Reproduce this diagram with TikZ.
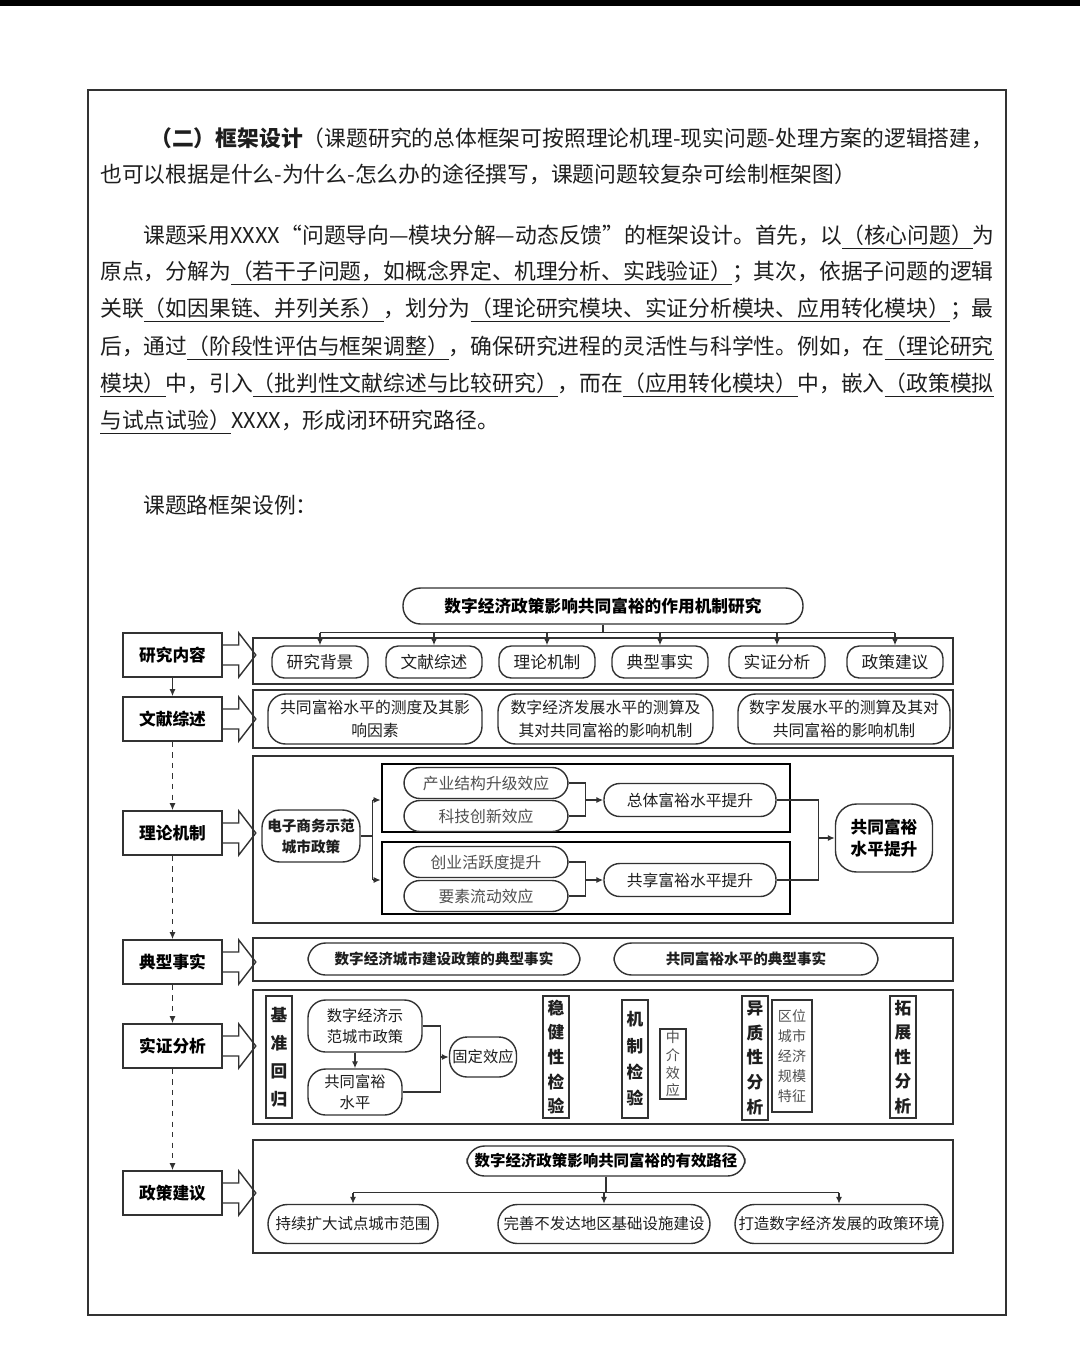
\documentclass[tikz,border=0pt]{standalone}
\usepackage{fontspec}
\setmainfont{Noto Sans CJK SC}
\usetikzlibrary{arrows.meta}
\definecolor{frm-line}{RGB}{50,50,50}
\definecolor{frm-text}{RGB}{30,30,30}
\definecolor{frm-grey}{RGB}{80,80,80}
\newcommand\fs[2]{\fontsize{#1}{#2}\selectfont}

\tikzset{
    wh/.style 2 args={minimum width=#1*0.02cm, minimum height=#2*0.02cm},
    pline/.style={anchor=west, inner sep=0pt, text=frm-text, font=\fs{12.4}{14}},
    lbl/.style={draw=frm-line, line width=0.9pt, fill=white, wh={99}{44}, font=\bfseries\fs{9.5}{11}},
    panel/.style={draw=frm-line, line width=1.1pt},
    inpanel/.style={draw=black, line width=1.5pt},
    rbox/.style={draw=frm-line, line width=0.8pt, rounded corners=7pt, align=center, inner sep=1pt, text=frm-text, font=\fs{9}{13}},
    vbox/.style={draw=frm-line, line width=0.8pt, align=center, inner sep=1pt, text=frm-text, font=\bfseries\fs{9.5}{14}},
    con/.style={draw=frm-line, line width=0.8pt}
}

\begin{document}
\begin{tikzpicture}[x=0.02cm, y=-0.02cm, >={Latex[length=4pt,width=3.5pt]}]

    % page
    \fill[white] (0,0) rectangle (1080,1357);
    \fill[black] (0,0) rectangle (1080,6);
    \draw[frm-line, line width=1.2pt] (88,90) rectangle (1006,1315);

    % heading and paragraph
    \node[pline] (h1) at (150,138) {{\bfseries （二）框架设计}（课题研究的总体框架可按照理论机理-现实问题-处理方案的逻辑搭建，};
    \node[pline] (h2) at (100,174) {也可以根据是什么-为什么-怎么办的途径撰写，课题问题较复杂可绘制框架图）};

    \node[pline] (p1) at (143,237) {课题采用XXXX“问题导向—模块分解—动态反馈”的框架设计。首先，以\underline{（核心问题）}为};
    \node[pline] (p2) at (100,273) {原点，分解为\underline{（若干子问题，如概念界定、机理分析、实践验证）}；其次，依据子问题的逻辑};
    \node[pline] (p3) at (100,310) {关联\underline{（如因果链、并列关系）}，划分为\underline{（理论研究模块、实证分析模块、应用转化模块）}；最};
    \node[pline] (p4) at (100,348) {后，通过\underline{（阶段性评估与框架调整）}，确保研究进程的灵活性与科学性。例如，在\underline{（理论研究}};
    \node[pline] (p5) at (100,385) {\underline{模块）}中，引入\underline{（批判性文献综述与比较研究）}，而在\underline{（应用转化模块）}中，嵌入\underline{（政策模拟}};
    \node[pline] (p6) at (100,422) {\underline{与试点试验）}XXXX，形成闭环研究路径。};

    \node[pline] (cap) at (143,505) {课题路框架设例：};

    % diagram: title
    \node[rbox, wh={400}{36}, rounded corners=10pt, text=black, font=\bfseries\fs{9.5}{11}] (title) at (603,606) {数字经济政策影响共同富裕的作用机制研究};

    % left column
    \node[lbl] (l1) at (172.5,655) {研究内容};
    \node[lbl] (l2) at (172.5,719) {文献综述};
    \node[lbl] (l3) at (172.5,833) {理论机制};
    \node[lbl] (l4) at (172.5,962) {典型事实};
    \node[lbl] (l5) at (172.5,1046) {实证分析};
    \node[lbl] (l6) at (172.5,1193) {政策建议};

    \draw[con,->] (l1.south) -- (l2.north);
    \draw[con,dashed,->] (l2.south) -- (l3.north);
    \draw[con,dashed,->] (l3.south) -- (l4.north);
    \draw[con,dashed,->] (l4.south) -- (l5.north);
    \draw[con,dashed,->] (l5.south) -- (l6.north);

    % panels
    \node[panel, wh={700}{46}] (pn1) at (603,661) {};
    \node[panel, wh={700}{58}] (pn2) at (603,719) {};
    \node[panel, wh={700}{167}] (pn3) at (603,839.5) {};
    \node[panel, wh={700}{43}] (pn4) at (603,959.5) {};
    \node[panel, wh={700}{134}] (pn5) at (603,1057) {};
    \node[panel, wh={700}{113}] (pn6) at (603,1196.5) {};

    \foreach \i in {1,...,6}
        \draw[con] (l\i.east) ++(0,-10) -- ++(16,0) -- ++(0,-12) -- ++(17,22) -- ++(-17,22) -- ++(0,-12) -- ++(-16,0);

    % row 1
    \foreach \n/\x/\t in {r1/320/研究背景, r2/434/文献综述, r3/547/理论机制, r4/660/典型事实, r5/777/实证分析, r6/895/政策建议}
        \node[rbox, wh={96}{32}, font=\fs{9.5}{11}] (\n) at (\x,662) {\t};
    \draw[con] (title.south) -- ++(0,8) coordinate (hub1);
    \draw[con] (r1.north |- hub1) -- (r6.north |- hub1);
    \foreach \i in {1,...,6}
        \draw[con,->] (r\i.north |- hub1) -- (r\i.north);

    % row 2
    \node[rbox, wh={214}{50}, rounded corners=10pt] (w1) at (375,719) {共同富裕水平的测度及其影\\响因素};
    \node[rbox, wh={215}{50}, rounded corners=10pt] (w2) at (605.5,719) {数字经济发展水平的测算及\\其对共同富裕的影响机制};
    \node[rbox, wh={212}{50}, rounded corners=10pt] (w3) at (844,719) {数字发展水平的测算及其对\\共同富裕的影响机制};

    % row 3
    \node[rbox, wh={98}{52}, rounded corners=10pt, font=\bfseries\fs{8.3}{12}] (ec) at (311,836) {电子商务示范\\城市政策};
    \node[inpanel, wh={408}{68}] (inU) at (586,798) {};
    \node[inpanel, wh={408}{72}] (inL) at (586,878) {};
    \node[rbox, wh={164}{31}, rounded corners=9pt, text=frm-grey] (cy) at (486,783) {产业结构升级效应};
    \node[rbox, wh={164}{31}, rounded corners=9pt, text=frm-grey] (kj) at (486,816) {科技创新效应};
    \node[rbox, wh={164}{31}, rounded corners=9pt, text=frm-grey] (cx) at (486,862) {创业活跃度提升};
    \node[rbox, wh={164}{31}, rounded corners=9pt, text=frm-grey] (ys) at (486,896) {要素流动效应};
    \node[rbox, wh={172}{33}, rounded corners=9pt] (zt) at (690,800) {总体富裕水平提升};
    \node[rbox, wh={172}{33}, rounded corners=9pt] (gx) at (690,880) {共享富裕水平提升};
    \node[rbox, wh={97}{68}, rounded corners=12pt, text=black, font=\bfseries\fs{9.5}{13}] (gt) at (884,838) {共同富裕\\水平提升};

    \draw[con] (ec.east) -- ++(12,0) coordinate (s1);
    \draw[con] (s1 |- zt.west) -- (s1 |- gx.west);
    \draw[con,->] (s1 |- zt.west) -- (inU.west |- zt.west);
    \draw[con,->] (s1 |- gx.west) -- (inL.west |- gx.west);
    \draw[con] (cy.east) -- ++(17,0) coordinate (b1) -- (b1 |- kj.east) -- (kj.east);
    \draw[con,->] (b1 |- zt.west) -- (zt.west);
    \draw[con] (cx.east) -- ++(17,0) coordinate (b2) -- (b2 |- ys.east) -- (ys.east);
    \draw[con,->] (b2 |- gx.west) -- (gx.west);
    \draw[con] (zt.east) -- ++(42,0) coordinate (b3) -- (b3 |- gx.east) -- (gx.east);
    \draw[con,->] (b3 |- gt.west) -- (gt.west);

    % row 4
    \node[rbox, wh={272}{32}, rounded corners=10pt, font=\bfseries\fs{8.3}{11}] (t1) at (444,959) {数字经济城市建设政策的典型事实};
    \node[rbox, wh={264}{32}, rounded corners=10pt, font=\bfseries\fs{8.3}{11}] (t2) at (746,959) {共同富裕水平的典型事实};

    % row 5
    \node[vbox, wh={26}{122}, font=\bfseries\fs{9.5}{16}] (jz) at (279,1057) {基\\准\\回\\归};
    \node[rbox, wh={114}{52}, rounded corners=10pt, font=\fs{8.7}{12}] (sz) at (365,1026) {数字经济示\\范城市政策};
    \node[rbox, wh={94}{46}, rounded corners=10pt, font=\fs{8.7}{12}] (gt2) at (355,1092) {共同富裕\\水平};
    \node[rbox, wh={67}{40}, rounded corners=10pt, font=\fs{8.7}{12}] (fe) at (483,1057) {固定效应};
    \draw[con,->] (gt2.north |- sz.south) -- (gt2.north);
    \draw[con] (sz.east) -- ++(18,0) coordinate (b4) -- (b4 |- gt2.east) -- (gt2.east);
    \draw[con,->] (b4 |- fe.west) -- (fe.west);

    \node[vbox, wh={26}{122}] (wj) at (556,1057) {稳\\健\\性\\检\\验};
    \node[vbox, wh={26}{118}, font=\bfseries\fs{9.5}{15}] (jc) at (635,1059) {机\\制\\检\\验};
    \node[vbox, wh={26}{70}, line width=0.6pt, text=frm-grey, font=\fs{8}{10}] (zj) at (673,1064) {中\\介\\效\\应};
    \node[vbox, wh={26}{124}] (yz) at (755,1058) {异\\质\\性\\分\\析};
    \node[vbox, wh={40}{112}, line width=0.6pt, text=frm-grey, font=\fs{8}{11.4}] (qw) at (792,1056) {区位\\城市\\经济\\规模\\特征};
    \node[vbox, wh={26}{122}] (tz) at (903,1057) {拓\\展\\性\\分\\析};

    % row 6
    \node[rbox, wh={278}{30}, rounded corners=10pt, text=black, font=\bfseries\fs{8.8}{11}] (lu) at (606,1161) {数字经济政策影响共同富裕的有效路径};
    \node[rbox, wh={170}{39}, rounded corners=11pt, font=\fs{8.8}{11}] (q1) at (353,1224) {持续扩大试点城市范围};
    \node[rbox, wh={212}{39}, rounded corners=11pt, font=\fs{8.8}{11}] (q2) at (604,1224) {完善不发达地区基础设施建设};
    \node[rbox, wh={208}{39}, rounded corners=11pt, font=\fs{8.8}{11}] (q3) at (839,1224) {打造数字经济发展的政策环境};
    \draw[con] (lu.south) -- ++(0,16) coordinate (hub2);
    \draw[con] (q1.north |- hub2) -- (q3.north |- hub2);
    \foreach \i in {1,2,3}
        \draw[con,->] (q\i.north |- hub2) -- (q\i.north);
\end{tikzpicture}
\end{document}
